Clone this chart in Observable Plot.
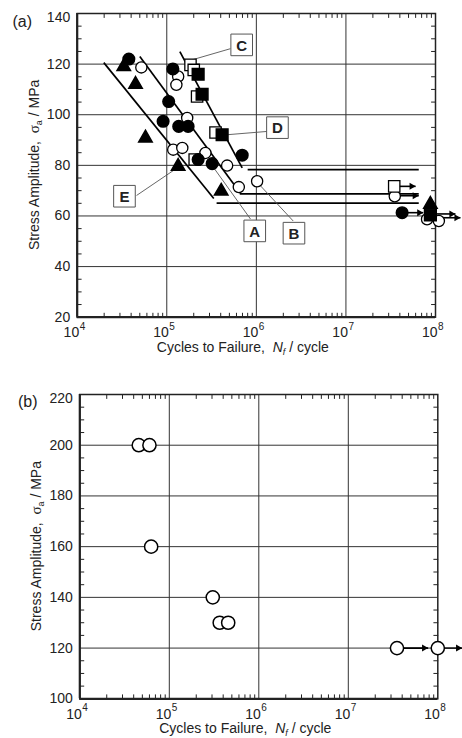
<!DOCTYPE html>
<html><head><meta charset="utf-8">
<script src="https://cdn.jsdelivr.net/npm/d3@7"></script>
<script src="https://cdn.jsdelivr.net/npm/@observablehq/plot@0.6"></script>
<style>
html,body{margin:0;padding:0;background:#fff;}
#a svg,#b svg{display:block;}
</style></head><body><div id="a"></div><div id="b"></div>
<script>
// ---------- tick labels ----------
const xDecades = [1e4, 1e5, 1e6, 1e7, 1e8];
const xExponents = ["4", "5", "6", "7", "8"];
const xGrid = [1e5, 1e6, 1e7];
const xMinor = [2,3,4,5,6,7,8,9].flatMap(k => [1e4,1e5,1e6,1e7].map(d => k * d));
const yTicksA = [20, 40, 60, 80, 100, 120, 140];
const yTicksB = [100, 120, 140, 160, 180, 200, 220];

// ---------- panel (a) series: [cycles to failure, stress amplitude] ----------
const seriesA_filledCircle = [[3.77e4,122.0],[1.17e5,118.1],[1.05e5,105.2],[9.1e4,97.4],[1.36e5,95.4],[1.73e5,95.4],[2.24e5,82.3],[3.21e5,80.7],[6.95e5,84.0],[4.24e7,61.3]];
const seriesB_openCircle = [[5.2e4,118.7],[1.34e5,115.1],[1.28e5,111.8],[1.69e5,98.7],[1.18e5,86.2],[1.49e5,86.9],[2.70e5,84.9],[4.72e5,79.9],[6.37e5,71.4],[1.02e6,73.7],[3.51e7,67.8],[8.05e7,58.7],[1.09e8,58.0]];
const seriesC_openSquare = [[1.84e5,119.7],[2.0e5,117.7],[2.18e5,107.2],[3.5e5,93.0],[2.05e5,82.3],[3.46e7,71.7]];
const seriesD_filledSquare = [[2.24e5,116.0],[2.48e5,108.1],[4.15e5,92.1],[8.77e7,60.4]];
const seriesE_filledTriangle = [[3.31e4,119.0],[4.48e4,112.0],[5.78e4,90.8],[1.34e5,79.6],[4.05e5,69.8],[8.77e7,64.6]];

// run-out arrows (a): start N, tip N, stress
const runoutA_from = [3.46e7, 3.51e7, 4.24e7, 8.77e7, 1.09e8];
const runoutA_to   = [6.0e7, 6.5e7, 7.3e7, 1.67e8, 1.90e8];
const runoutA_s    = [71.7, 68.0, 61.3, 60.8, 59.3];

// S-N fit lines (a)
const fitStartN = [1.98e4, 5.0e4, 1.40e5];
const fitStartS = [120.6, 123.0, 124.9];
const fitEndN   = [3.35e5, 6.65e5, 6.95e5];
const fitEndS   = [66.9, 69.0, 79.0];
const limitStartN = [3.6e5, 6.53e5, 8.0e5];
const limitEndN   = [6.5e7, 6.5e7, 6.5e7];
const limitS      = [65.1, 68.7, 78.3];

// series labels (a)
const labelLetters = ["A", "B", "C", "D", "E"];
const labelN = [9.6e5, 2.63e6, 6.86e5, 1.72e6, 3.37e4];
const labelS = [54.1, 53.2, 127.6, 94.9, 67.8];
const leaderFromN = [3.35e5, 1.08e6, 1.92e5, 4.72e5, 1.31e5];
const leaderFromS = [79.0, 72.4, 121.7, 92.1, 79.0];
const leaderToN = [8.6e5, 2.58e6, 5.14e5, 1.32e6, 4.6e4];
const leaderToS = [58.8, 58.0, 126.1, 93.4, 68.1];

// ---------- panel (b) ----------
const panelB_openCircle = [[4.56e4,200],[6.0e4,200],[6.27e4,160],[3.06e5,140],[3.66e5,130],[4.55e5,130],[3.5e7,120],[1.0e8,120]];
const runoutB_from = [3.5e7, 1.0e8];
const runoutB_to   = [7.8e7, 1.87e8];
const runoutB_s    = [120, 120];

const FONT = "'Liberation Sans', Arial, Helvetica, sans-serif";
const INK = "#222";
const tickShape = {draw(ctx, l) { ctx.moveTo(0, 0); ctx.lineTo(0, -l); }};

function frameMarks(yTicks, yMinor) {
  const y0 = yTicks[0];
  const yTop = yTicks.slice(-1);
  const yRest = yTicks.slice(0, -1);
  return [
    Plot.ruleX(xGrid, {stroke: "#333", strokeWidth: 1}),
    Plot.ruleY(yTicks.slice(1, -1), {stroke: "#333", strokeWidth: 1}),
    Plot.vector(xMinor, {x: d => d, frameAnchor: "bottom", length: 4, rotate: 0, anchor: "start", shape: tickShape, stroke: INK, strokeWidth: 1}),
    Plot.vector(xMinor, {x: d => d, frameAnchor: "top", length: 4, rotate: 180, anchor: "start", shape: tickShape, stroke: INK, strokeWidth: 1}),
    Plot.vector(yMinor, {y: d => d, frameAnchor: "left", length: 4, rotate: 90, anchor: "start", shape: tickShape, stroke: INK, strokeWidth: 1}),
    Plot.vector(yMinor, {y: d => d, frameAnchor: "right", length: 4, rotate: -90, anchor: "start", shape: tickShape, stroke: INK, strokeWidth: 1}),
    Plot.frame({stroke: INK, strokeWidth: 1.5}),
    Plot.ruleY([y0], {stroke: INK, strokeWidth: 2.2}),
    Plot.ruleX([1e4], {stroke: INK, strokeWidth: 2.2}),
    Plot.text(yRest, {y: d => d, frameAnchor: "left", text: d => String(d), textAnchor: "end", dx: -7, dy: 0, fontSize: 14, fill: INK}),
    Plot.text(yTop, {y: d => d, frameAnchor: "left", text: d => String(d), textAnchor: "end", dx: -7, dy: 4, fontSize: 14, fill: INK}),
    Plot.text(xDecades, {x: d => d, frameAnchor: "bottom", text: () => "10", textAnchor: "end", dx: 2, dy: 20, lineAnchor: "bottom", fontSize: 14, fill: INK}),
    Plot.text(xDecades, {x: d => d, frameAnchor: "bottom", text: (d, i) => xExponents[i], textAnchor: "start", dx: 2.5, dy: 12.5, lineAnchor: "bottom", fontSize: 10, fill: INK})
  ];
}

function arrows(from, to, s, r) {
  const idx = d3.range(from.length);
  return [
    Plot.link(idx, {x1: i => from[i], x2: i => to[i], y1: i => s[i], y2: i => s[i], stroke: "black", strokeWidth: 1.6}),
    Plot.dot(idx, {x: i => to[i], y: i => s[i], symbol: "triangle", rotate: 90, r: r, dx: -r * 1.55, fill: "black", stroke: "none"})
  ];
}

function titles(svg, W, H, ml, mr, mt, mb, tag, tagX, tagY) {
  const g = d3.select(svg);
  const cx = ml + (W - ml - mr) / 2 - 13;
  const xt = g.append("text").attr("x", cx).attr("y", H - mb + 35).attr("text-anchor", "middle")
    .attr("font-size", 14).attr("fill", INK).attr("font-family", FONT);
  xt.append("tspan").text("Cycles to Failure,\u00a0\u00a0");
  xt.append("tspan").attr("font-style", "italic").text("N");
  xt.append("tspan").attr("font-style", "italic").attr("font-size", 9).attr("dy", 3).text("f");
  xt.append("tspan").attr("dy", -3).text(" / cycle");

  const cy = mt + (H - mt - mb) / 2;
  const yt = g.append("text").attr("transform", `translate(${ml - 38},${cy}) rotate(-90)`).attr("text-anchor", "middle")
    .attr("font-size", 14).attr("fill", INK).attr("font-family", FONT);
  yt.append("tspan").text("Stress Amplitude,\u00a0\u00a0");
  yt.append("tspan").attr("font-family", "'Liberation Serif', 'DejaVu Serif', serif").attr("font-size", 15).text("σ");
  yt.append("tspan").attr("font-size", 9).attr("dy", 3).text("a");
  yt.append("tspan").attr("dy", -3).text(" / MPa");

  g.append("text").attr("x", tagX).attr("y", tagY).attr("text-anchor", "start").attr("font-size", 16)
    .attr("fill", INK).attr("font-family", FONT).text(tag);
}

// ---------- Panel (a) ----------
const A = {W: 462, H: 370, ml: 76.7, mr: 27, mt: 13, mb: 53.3};
const yMinorA = d3.range(25, 140, 5).filter(v => v % 20 !== 0);
const labelIdx = d3.range(labelLetters.length);
const fitIdx = d3.range(fitStartN.length);

const chartA = Plot.plot({
  width: A.W, height: A.H, marginLeft: A.ml, marginRight: A.mr, marginTop: A.mt, marginBottom: A.mb,
  style: {fontFamily: FONT, background: "white", overflow: "visible"},
  x: {type: "log", domain: [1e4, 1e8], axis: null},
  y: {domain: [20, 140], axis: null},
  marks: [
    ...frameMarks(yTicksA, yMinorA),
    Plot.link(fitIdx, {x1: i => fitStartN[i], y1: i => fitStartS[i], x2: i => fitEndN[i], y2: i => fitEndS[i], stroke: "black", strokeWidth: 1.7}),
    Plot.link(fitIdx, {x1: i => limitStartN[i], y1: i => limitS[i], x2: i => limitEndN[i], y2: i => limitS[i], stroke: "black", strokeWidth: 1.7}),
    Plot.link(labelIdx, {x1: i => leaderFromN[i], y1: i => leaderFromS[i], x2: i => leaderToN[i], y2: i => leaderToS[i], stroke: "#555", strokeWidth: 0.9}),
    ...arrows(runoutA_from, runoutA_to, runoutA_s, 2.6),
    Plot.dot(seriesB_openCircle, {x: d => d[0], y: d => d[1], r: 5.6, fill: "white", stroke: "black", strokeWidth: 1.3}),
    Plot.dot(seriesC_openSquare, {x: d => d[0], y: d => d[1], symbol: "square", r: 6.4, fill: "white", stroke: "black", strokeWidth: 1.3}),
    Plot.dot(seriesA_filledCircle, {x: d => d[0], y: d => d[1], r: 5.8, fill: "black", stroke: "black"}),
    Plot.dot(seriesD_filledSquare, {x: d => d[0], y: d => d[1], symbol: "square", r: 6.6, fill: "black", stroke: "black"}),
    Plot.dot(seriesE_filledTriangle, {x: d => d[0], y: d => d[1], symbol: "triangle", r: 5.0, fill: "black", stroke: "black"}),
    Plot.dot(labelIdx, {x: i => labelN[i], y: i => labelS[i], symbol: "square", r: 12.2, fill: "white", stroke: "#555", strokeWidth: 1}),
    Plot.text(labelIdx, {x: i => labelN[i], y: i => labelS[i], text: i => labelLetters[i], fontSize: 15, fontWeight: "bold", fill: INK, dy: 1})
  ]
});
titles(chartA, A.W, A.H, A.ml, A.mr, A.mt, A.mb, "(a)", 12.5, 27);
document.getElementById("a").appendChild(chartA);

// ---------- Panel (b) ----------
const B = {W: 462, H: 368, ml: 79.3, mr: 24.7, mt: 24, mb: 39.7};
const yMinorB = d3.range(105, 220, 5).filter(v => v % 20 !== 0);
const chartB = Plot.plot({
  width: B.W, height: B.H, marginLeft: B.ml, marginRight: B.mr, marginTop: B.mt, marginBottom: B.mb,
  style: {fontFamily: FONT, background: "white", overflow: "visible"},
  x: {type: "log", domain: [1e4, 1e8], axis: null},
  y: {domain: [100, 220], axis: null},
  marks: [
    ...frameMarks(yTicksB, yMinorB),
    ...arrows(runoutB_from, runoutB_to, runoutB_s, 2.6),
    Plot.dot(panelB_openCircle, {x: d => d[0], y: d => d[1], r: 6.6, fill: "white", stroke: "black", strokeWidth: 1.5})
  ]
});
titles(chartB, B.W, B.H, B.ml, B.mr, B.mt, B.mb, "(b)", 18, 37);
document.getElementById("b").appendChild(chartB);
</script>
</body></html>
